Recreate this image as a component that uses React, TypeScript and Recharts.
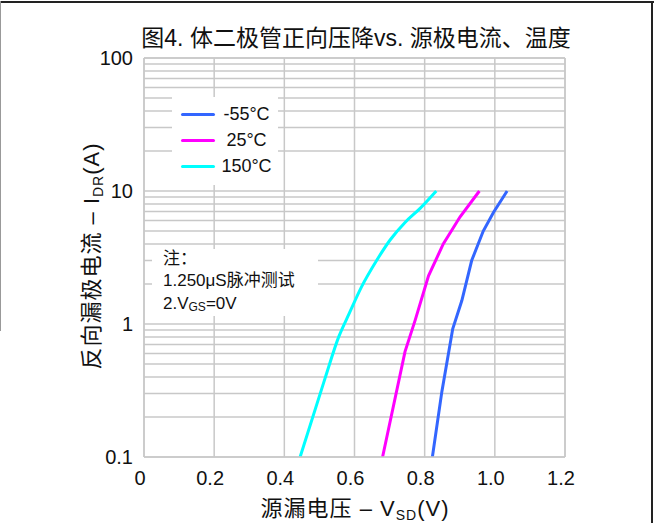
import { CartesianGrid, Line, LineChart, ReferenceLine, XAxis, YAxis } from "recharts";

// forward voltage (V) vs reverse drain current (A)
const cold = [
  { v: 0.822, i: 0.1 },
  { v: 0.849, i: 0.31 },
  { v: 0.88, i: 0.92 },
  { v: 0.906, i: 1.5 },
  { v: 0.934, i: 3.0 },
  { v: 0.967, i: 5.0 },
  { v: 0.996, i: 6.9 },
  { v: 1.035, i: 10 },
];

const room = [
  { v: 0.68, i: 0.1 },
  { v: 0.744, i: 0.62 },
  { v: 0.773, i: 1.07 },
  { v: 0.811, i: 2.3 },
  { v: 0.853, i: 4.0 },
  { v: 0.901, i: 6.4 },
  { v: 0.956, i: 10 },
];

const hot = [
  { v: 0.445, i: 0.1 },
  { v: 0.516, i: 0.39 },
  { v: 0.555, i: 0.8 },
  { v: 0.585, i: 1.2 },
  { v: 0.62, i: 1.9 },
  { v: 0.663, i: 3.0 },
  { v: 0.702, i: 4.3 },
  { v: 0.744, i: 5.8 },
  { v: 0.787, i: 7.4 },
  { v: 0.833, i: 10 },
];

const series = [
  { name: "-55°C", data: cold, color: "#3366ff", curve: "linear" },
  { name: "25°C", data: room, color: "#ff00ff", curve: "linear" },
  { name: "150°C", data: hot, color: "#00ffff", curve: "monotone" },
];

const xTicks = [0, 0.2, 0.4, 0.6, 0.8, 1.0, 1.2];
const yTicks = [0.1, 1, 10, 100];
const minorLines = [
  0.2, 0.3, 0.4, 0.5, 0.6, 0.7, 0.8, 0.9,
  2, 3, 4, 5, 6, 7, 8, 9,
  20, 30, 40, 50, 60, 70, 80, 90,
];

const sans = "Arial, 'Liberation Sans', 'Noto Sans CJK SC', sans-serif";
const gridColor = "#c8c8c8";

export default function App() {
  return (
    <div style={{ position: "absolute", left: 0, top: 0, width: 656, height: 523, background: "#fff", overflow: "hidden" }}>
      {/* frame edges */}
      <div style={{ position: "absolute", left: 0, top: 1, width: 654, height: 2, background: "#222" }} />
      <div style={{ position: "absolute", left: 651, top: 1, width: 2, height: 522, background: "#222" }} />
      <div style={{ position: "absolute", left: 0, top: 1, width: 1, height: 330, background: "#999" }} />

      <div
        style={{
          position: "absolute",
          left: 56,
          width: 600,
          top: 24,
          lineHeight: "28px",
          textAlign: "center",
          fontSize: 23,
          fontFamily: sans,
          color: "#111",
          whiteSpace: "nowrap",
        }}
      >
        图4. 体二极管正向压降vs. 源极电流、温度
      </div>

      <div style={{ position: "absolute", left: 0, top: 0 }}>
        <LineChart width={656} height={523} margin={{ top: 58, right: 91, bottom: 36, left: 0 }}>
          <CartesianGrid stroke={gridColor} strokeWidth={1.5} />
          {minorLines.map((m) => (
            <ReferenceLine key={m} y={m} stroke={gridColor} strokeWidth={1.5} />
          ))}
          <XAxis
            type="number"
            dataKey="v"
            domain={[0, 1.2]}
            ticks={xTicks}
            tickFormatter={(t) => (t === 0 ? "0" : t.toFixed(1))}
            tick={{ fontSize: 20, fill: "#111", fontFamily: sans, dx: -4 }}
            tickLine={false}
            tickSize={0}
            tickMargin={14}
            axisLine={{ stroke: gridColor, strokeWidth: 1.5 }}
            height={30}
            allowDataOverflow
          />
          <YAxis
            type="number"
            dataKey="i"
            scale="log"
            domain={[0.1, 100]}
            ticks={yTicks}
            tickFormatter={(t) => String(t)}
            tick={{ fontSize: 20, fill: "#111", fontFamily: sans }}
            tickLine={false}
            tickSize={0}
            tickMargin={11}
            axisLine={{ stroke: gridColor, strokeWidth: 1.5 }}
            width={144}
            allowDataOverflow
          />
          <ReferenceLine x={1.2} stroke={gridColor} strokeWidth={1.5} />
          <ReferenceLine y={100} stroke={gridColor} strokeWidth={1.5} />
          {series.map((s) => (
            <Line
              key={s.name}
              data={s.data}
              dataKey="i"
              name={s.name}
              type={s.curve as "linear" | "monotone"}
              stroke={s.color}
              strokeWidth={3}
              dot={false}
              isAnimationActive={false}
            />
          ))}
        </LineChart>
      </div>

      {/* legend */}
      <div
        style={{
          position: "absolute",
          left: 172,
          top: 97,
          width: 106,
          height: 88,
          paddingTop: 4,
          boxSizing: "border-box",
          background: "#fff",
        }}
      >
        {series.map((s) => (
          <div key={s.name} style={{ display: "flex", alignItems: "center", height: 26 }}>
            <div style={{ width: 34, height: 3, marginLeft: 9, background: s.color, borderRadius: 2 }} />
            <div style={{ width: 63, textAlign: "center", fontSize: 18, color: "#111", fontFamily: sans }}>
              {s.name}
            </div>
          </div>
        ))}
      </div>

      {/* note box */}
      <div
        style={{
          position: "absolute",
          left: 152,
          top: 249,
          width: 166,
          height: 67,
          background: "#fff",
          fontFamily: sans,
          fontSize: 17,
          color: "#111",
          lineHeight: "24px",
          paddingLeft: 11,
          boxSizing: "border-box",
          whiteSpace: "nowrap",
        }}
      >
        <div style={{ lineHeight: "20px", marginTop: 0 }}>注：</div>
        <div>1.250μS脉冲测试</div>
        <div style={{ lineHeight: "22px" }}>
          2.V<sub style={{ fontSize: 12, verticalAlign: "-2px", lineHeight: 0 }}>GS</sub>=0V
        </div>
      </div>

      {/* x axis title */}
      <div
        style={{
          position: "absolute",
          left: 105,
          width: 500,
          top: 496,
          lineHeight: "26px",
          textAlign: "center",
          fontSize: 22,
          letterSpacing: 1,
          fontFamily: sans,
          color: "#111",
          whiteSpace: "nowrap",
        }}
      >
        源漏电压 – V<sub style={{ fontSize: 14, verticalAlign: "-4px", lineHeight: 0 }}>SD</sub>(V)
      </div>

      {/* y axis title */}
      <div
        style={{
          position: "absolute",
          left: 92,
          top: 256,
          width: 320,
          lineHeight: "26px",
          transform: "translate(-50%, -50%) rotate(-90deg)",
          textAlign: "center",
          fontSize: 22,
          letterSpacing: 1,
          fontFamily: sans,
          color: "#111",
          whiteSpace: "nowrap",
        }}
      >
        反向漏极电流 – I<sub style={{ fontSize: 14, verticalAlign: "-4px", lineHeight: 0 }}>DR</sub>(A)
      </div>
    </div>
  );
}
